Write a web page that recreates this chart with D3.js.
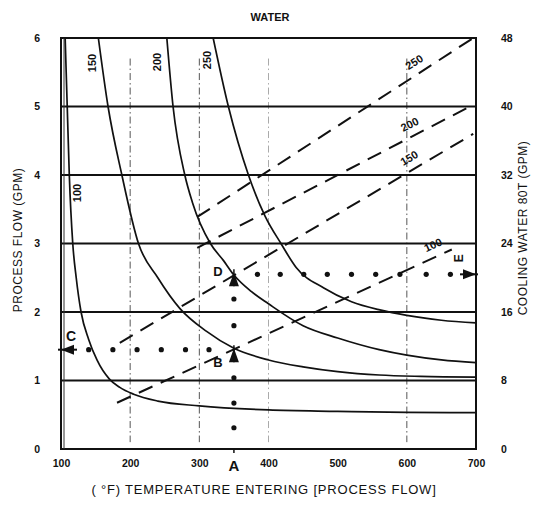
<!DOCTYPE html>
<html><head><meta charset="utf-8">
<script src="https://cdn.jsdelivr.net/npm/d3@7"></script>
<style>
body{margin:0;background:#fff;}
text{font-family:"Liberation Sans","DejaVu Sans",sans-serif;fill:#111;}
</style></head><body>
<svg id="c" width="539" height="505"></svg>
<script>
// ---- data ----
const xTicks = [100,200,300,400,500,600,700];
const yTicks = [0,1,2,3,4,5,6];
const yRightTicks = [0,8,16,24,32,40,48];
const vGrid = [200,300,400,600];
// solid curves: [temperature, process flow]
const curveNames = ["100","150","200","250"];
const curve100 = [[106,6],[109,5],[112,4],[117,3],[122,2.5],[129,2],[140,1.6],[152,1.3],[170,1.02],[185,0.9],[205,0.8],[240,0.7],[300,0.63],[400,0.57],[500,0.55],[600,0.535],[700,0.53]];
const curve150 = [[154,6],[168,5],[188,4],[212,3],[240,2.5],[272,2.05],[310,1.72],[350,1.47],[400,1.3],[450,1.2],[500,1.13],[560,1.08],[620,1.06],[700,1.05]];
const curve200 = [[253,6],[262,5],[279,4],[290,3.6],[316,3],[335,2.75],[350,2.54],[375,2.3],[400,2.12],[450,1.8],[500,1.62],[560,1.45],[600,1.37],[650,1.3],[700,1.26]];
const curve250 = [[320,6],[342,5],[371,4],[395,3.4],[418,3],[440,2.65],[480,2.35],[520,2.15],[561,2.03],[600,1.95],[650,1.88],[700,1.84]];
// dashed lines: [temperature, cooling water]
const lineNames = ["100","150","200","250"];
const line100 = [[181,5.4],[665,23.3]];
const line150 = [[185,12.4],[696,36.8]];
const line200 = [[297,23.5],[696,40.2]];
const line250 = [[297,27.1],[696,48]];
// example path
const pathT = 350;
const flowC = 1.45, flowB = 1.47, flowD = 2.55;
const dotsC = [140,175,210,245,280,314];
const dotsD = [384,417,451,485,520,555,590,628,663];
const dotsA = [0.31,0.67,1.04,1.8,2.19];

// ---- drawing ----
const svg = d3.select("#c");
const x = d3.scaleLinear().domain([100,700]).range([61,476]);
const y = d3.scaleLinear().domain([0,6]).range([449,38]);
const yR = d3.scaleLinear().domain([0,48]).range([449,38]);

// vertical dash-dot grid
svg.append("g").selectAll("line").data(vGrid).join("line")
  .attr("x1",d=>x(d)).attr("x2",d=>x(d))
  .attr("y1",y(5.7)).attr("y2",y(0.1))
  .attr("stroke",d=>d===400?"#aaa":"#555").attr("stroke-width",1)
  .attr("stroke-dasharray","7,3,1.5,3");

// horizontal grid
svg.append("g").selectAll("line").data([1,2,3,4,5]).join("line")
  .attr("x1",x(100)).attr("x2",x(700))
  .attr("y1",d=>y(d)).attr("y2",d=>y(d))
  .attr("stroke","#111").attr("stroke-width",1.8);

// frame
svg.append("rect").attr("x",x(100)).attr("y",y(6)).attr("width",x(700)-x(100)).attr("height",y(0)-y(6))
  .attr("fill","none").attr("stroke","#111").attr("stroke-width",2);
svg.append("line").attr("x1",x(100)+3).attr("x2",x(100)+3).attr("y1",y(6)).attr("y2",y(0))
  .attr("stroke","#333").attr("stroke-width",1);

// clip
svg.append("clipPath").attr("id","clp").append("rect")
  .attr("x",x(100)).attr("y",y(6)).attr("width",x(700)-x(100)).attr("height",y(0)-y(6));

// solid curves
const lineGen2 = d3.line().x(d=>x(d[0])).y(d=>y(d[1])).curve(d3.curveMonotoneX);
const curves = [curve100,curve150,curve200,curve250];
svg.append("g").attr("clip-path","url(#clp)").selectAll("path").data(curves).join("path")
  .attr("d",d=>lineGen2(d)).attr("fill","none").attr("stroke","#111").attr("stroke-width",1.7);

// dashed lines
const lineR = d3.line().x(d=>x(d[0])).y(d=>yR(d[1]));
const dlines = [line100,line150,line200,line250];
svg.append("g").selectAll("path").data(dlines).join("path")
  .attr("d",d=>lineR(d)).attr("fill","none").attr("stroke","#111").attr("stroke-width",2)
  .attr("stroke-dasharray","15,9");

// dashed line labels
const lblT = [645,612,612,620];
const lblOff = [8,8,8,8];
dlines.forEach((ln,i)=>{
  const [a,b] = ln;
  const px1=x(a[0]),py1=yR(a[1]),px2=x(b[0]),py2=yR(b[1]);
  const ang = Math.atan2(py2-py1,px2-px1)*180/Math.PI;
  const t = (lblT[i]-a[0])/(b[0]-a[0]);
  const px = px1+(px2-px1)*t, py = py1+(py2-py1)*t;
  svg.append("text").attr("transform",`translate(${px},${py}) rotate(${ang}) translate(0,${-lblOff[i]})`)
    .attr("text-anchor","middle").attr("font-size",11).attr("font-weight","bold").text(lineNames[i]);
});

// curve labels
const cLbl = [[77,193],[92,63],[157,62],[207,60]];
cLbl.forEach((p,i)=>{
  svg.append("text").attr("transform",`translate(${p[0]},${p[1]}) rotate(-90)`)
    .attr("text-anchor","middle").attr("dy","0.35em").attr("font-size",11).attr("font-weight","bold").text(curveNames[i]);
});

// dotted paths
const dot = (cx,cy)=>svg.append("circle").attr("cx",cx).attr("cy",cy).attr("r",2.6).attr("fill","#111");
dotsC.forEach(t=>dot(x(t),y(flowC)));
dotsD.forEach(t=>dot(x(t),y(flowD)));
dotsA.forEach(f=>dot(x(pathT),y(f)));
svg.append("line").attr("x1",x(pathT)).attr("x2",x(pathT)).attr("y1",y(0)).attr("y2",y(0)+4).attr("stroke","#111").attr("stroke-width",1.5);

// arrow heads
function triUp(cx,cy){svg.append("path").attr("d",`M${cx},${cy} l-5,14 l10,0 z`).attr("fill","#111");
  svg.append("line").attr("x1",cx).attr("x2",cx).attr("y1",cy-3).attr("y2",cy+14).attr("stroke","#111").attr("stroke-width",1.5);}
triUp(x(pathT),y(flowB));
triUp(x(pathT),y(flowD)-2);
// left arrow at C
{const cx=x(100), cy=y(flowC);
 svg.append("path").attr("d",`M${cx},${cy} l13,-5 l0,10 z`).attr("fill","#111");
 svg.append("line").attr("x1",cx-3).attr("x2",cx+16).attr("y1",cy).attr("y2",cy).attr("stroke","#111").attr("stroke-width",2);}
// right arrow at E
{const cx=x(700), cy=y(flowD);
 svg.append("path").attr("d",`M${cx},${cy} l-13,-5 l0,10 z`).attr("fill","#111");
 svg.append("line").attr("x1",cx-16).attr("x2",cx+2).attr("y1",cy).attr("y2",cy).attr("stroke","#111").attr("stroke-width",2);}

// point letters
const L = (t,px,py,s,rot)=>svg.append("text").attr("transform",`translate(${px},${py}) rotate(${rot||0})`)
  .attr("text-anchor","middle").attr("font-size",s).attr("font-weight","bold").text(t);
L("C",x(100)+10,y(flowC)-9,14);
L("B",x(pathT)-16,y(flowB)+19,13);
L("D",x(pathT)-16,y(flowD)+2,13);
L("E",x(700)-13,y(flowD)-16,12,-90);
L("A",x(pathT),y(0)+22,15);

// axes
const fs = 10.5;
const gl = svg.append("g").attr("transform",`translate(${x(100)-18},0)`).call(d3.axisLeft(y).tickValues(yTicks).tickSize(0).tickFormat(d3.format("d")));
const gr = svg.append("g").attr("transform",`translate(${x(700)+22},0)`).call(d3.axisRight(yR).tickValues(yRightTicks).tickSize(0).tickFormat(d3.format("d")));
const gb = svg.append("g").attr("transform",`translate(0,${y(0)+8})`).call(d3.axisBottom(x).tickValues(xTicks).tickSize(0).tickFormat(d3.format("d")));
[gl,gr,gb].forEach(g=>{g.select(".domain").remove();
  g.selectAll("text").attr("font-size",fs).attr("font-weight","bold").attr("font-family","'Liberation Sans',sans-serif").attr("fill","#111");});

// titles
svg.append("text").attr("x",270).attr("y",21).attr("text-anchor","middle").attr("font-size",11).attr("font-weight","bold").text("WATER");
svg.append("text").attr("transform","translate(22,240) rotate(-90)").attr("text-anchor","middle").attr("font-size",12).attr("letter-spacing",0.5).text("PROCESS FLOW (GPM)");
svg.append("text").attr("transform","translate(527,228) rotate(-90)").attr("text-anchor","middle").attr("font-size",12).attr("letter-spacing",0.5).text("COOLING WATER 80T (GPM)");
svg.append("text").attr("x",264).attr("y",494).attr("text-anchor","middle").attr("font-size",13).attr("letter-spacing",0.8).text("( °F) TEMPERATURE ENTERING [PROCESS FLOW]");
</script></body></html>
